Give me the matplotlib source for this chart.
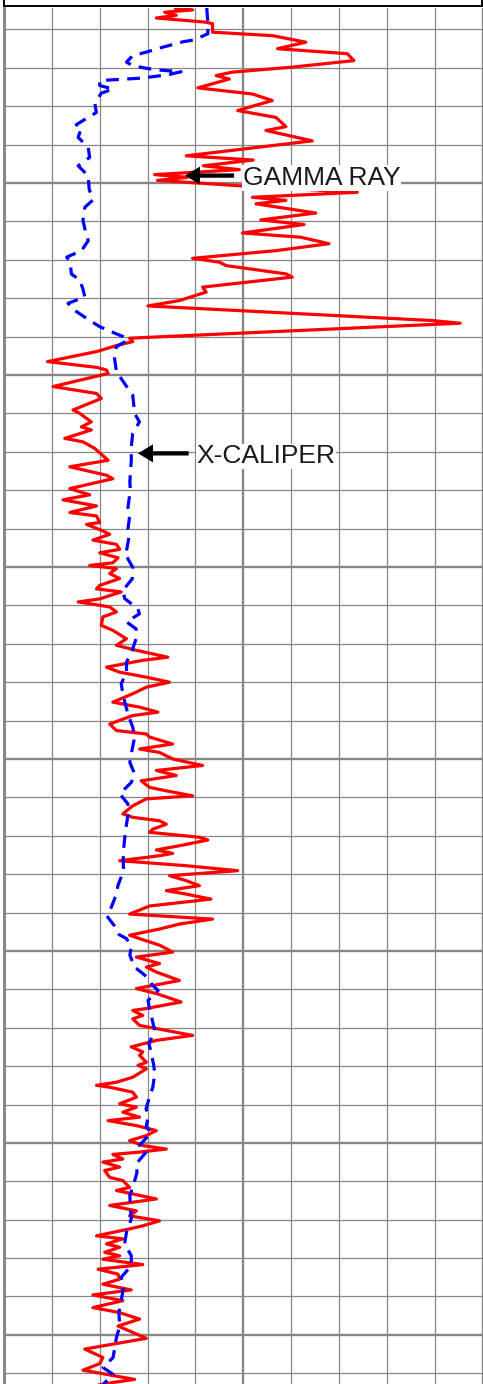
import matplotlib
matplotlib.use("Agg")
import matplotlib.pyplot as plt
from matplotlib.ticker import MultipleLocator
from matplotlib.patches import Rectangle, FancyArrowPatch, ArrowStyle

# ---------------- data ----------------
# Gamma ray log (API) vs depth (ft)
gr_depth = [1954.4, 1954.9, 1955.5, 1956.3, 1957.0, 1958.1, 1958.5, 1960.7, 1961.6, 1963.3,
            1965.0, 1966.3, 1968.1, 1969.8, 1971.1, 1972.0, 1972.9, 1975.2, 1976.8, 1978.5,
            1981.1, 1982.9, 1985.3, 1986.3, 1989.0, 1992.9, 1994.0, 1995.5, 1996.5, 1997.8,
            1998.5, 1999.3, 2000.7, 2002.4, 2003.7, 2004.5, 2005.4, 2007.8, 2009.6, 2010.8,
            2013.0, 2014.1, 2015.8, 2017.6, 2019.6, 2020.6, 2021.5, 2023.65, 2024.5, 2027.1,
            2028.4, 2030.6, 2032.0, 2035.8, 2036.5, 2040.4, 2041.3, 2042.2, 2043.9, 2046.5,
            2048.0, 2048.7, 2049.6, 2053.0, 2054.8, 2056.1, 2059.1, 2060.0, 2062.2, 2063.5,
            2064.3, 2066.5, 2067.4, 2069.1, 2072.2, 2073.9, 2076.1, 2077.0, 2079.6, 2081.2,
            2082.5, 2084.1, 2085.8, 2086.7, 2088.4, 2088.9, 2090.6, 2091.5, 2093.0, 2094.1,
            2095.4, 2096.3, 2097.6, 2098.9, 2099.6, 2100.4, 2101.7, 2103.0, 2104.8, 2105.7,
            2106.5, 2108.3, 2109.1, 2110.4, 2111.7, 2113.0, 2115.2, 2116.5, 2118.7, 2120.4,
            2121.7, 2123.5, 2124.3, 2126.1, 2127.4, 2128.7, 2130.0, 2131.3, 2133.0, 2135.2,
            2136.5, 2137.8, 2138.7, 2140.9, 2142.6, 2143.5, 2144.3, 2146.1, 2147.4, 2148.3,
            2150.0, 2151.7, 2153.0, 2154.3, 2155.7, 2157.4, 2158.3, 2159.6, 2160.4, 2162.2,
            2164.3, 2165.2, 2166.1, 2167.0, 2168.3, 2169.1, 2170.4, 2171.1, 2172.6, 2173.7,
            2174.6, 2175.2, 2176.5, 2177.8, 2179.1, 2180.4, 2181.7, 2183.0, 2184.3, 2185.2,
            2186.5, 2188.3, 2190.4, 2191.7, 2193.0, 2194.3, 2195.9, 2196.8, 2198.5, 2200.3,
            2201.6, 2203.3, 2204.2, 2205.5, 2207.7, 2209.8, 2211.1, 2213.3, 2215.0, 2215.5,
            2216.8, 2217.7, 2219.4, 2220.7, 2222.0, 2223.3, 2225.0, 2226.3, 2227.2, 2229.0,
            2229.8, 2230.7, 2232.9, 2234.2, 2235.0, 2235.5, 2236.8, 2238.1, 2239.8, 2240.7,
            2242.0, 2243.3, 2244.2, 2245.5, 2246.8, 2248.1, 2249.4, 2250.7, 2251.6, 2252.4,
            2253.0, 2254.2, 2255.0, 2256.3, 2257.2, 2259.0, 2259.8, 2261.6, 2262.4, 2264.6,
            2266.3, 2267.7, 2269.0, 2270.3, 2271.6, 2272.4, 2274.2, 2275.0, 2276.3, 2277.2,
            2278.5, 2279.4, 2280.3, 2281.7, 2282.9, 2284.2, 2285.5, 2286.8, 2288.3, 2289.6,
            2291.1, 2292.9, 2294.2, 2295.9, 2297.7, 2300.9, 2303.7, 2305.9, 2307.5, 2309.2,
            2311.6, 2312.4, 2313.0]
gr_api = [43.0, 47.3, 40.3, 43.2, 38.2, 50.7, 52.3, 52.3, 67.3, 75.7,
          68.6, 86.1, 87.75, 72.3, 57.3, 53.2, 56.5, 48.6, 62.3, 67.3,
          58.6, 68.2, 70.7, 65.7, 77.3, 45.7, 62.5, 50.0, 59.0, 37.75,
          46.0, 38.5, 59.0, 88.6, 62.3, 70.7, 63.2, 78.2, 64.4, 75.25,
          59.8, 74.4, 81.5, 68.2, 47.3, 54.0, 55.7, 70.7, 72.3, 49.8,
          50.7, 44.0, 36.1, 107.3, 114.4, 31.5, 32.3, 28.6, 23.2, 10.9,
          23.2, 25.7, 26.1, 12.3, 23.2, 24.4, 17.3, 19.0, 21.9, 19.4,
          21.9, 15.25, 19.8, 22.75, 26.1, 16.5, 25.7, 27.3, 16.5, 21.5,
          14.8, 23.2, 16.5, 23.2, 24.0, 20.7, 24.8, 26.5, 22.3, 28.2,
          29.0, 24.0, 28.6, 27.3, 21.5, 28.2, 26.5, 29.0, 24.0, 23.2,
          29.4, 24.0, 18.6, 26.5, 28.2, 24.8, 24.4, 27.3, 30.7, 28.2,
          33.2, 41.1, 34.8, 25.7, 29.0, 35.7, 41.5, 35.7, 32.3, 27.3,
          34.0, 38.6, 32.3, 26.5, 28.2, 35.7, 36.5, 42.3, 34.0, 39.0,
          42.3, 49.8, 38.2, 43.2, 34.4, 36.5, 40.7, 47.3, 35.7, 32.3,
          29.8, 32.3, 39.0, 40.7, 37.3, 36.5, 49.0, 51.1, 44.0, 38.2,
          42.3, 39.0, 29.0, 45.7, 58.6, 41.5, 45.7, 49.0, 40.7, 45.7,
          51.9, 36.5, 31.5, 52.3, 44.0, 39.0, 31.5, 34.0, 39.0, 42.3,
          33.2, 39.0, 35.7, 38.2, 44.0, 33.2, 38.2, 44.4, 35.7, 32.3,
          34.8, 32.3, 34.0, 40.7, 47.3, 38.2, 31.9, 34.8, 34.0, 35.7,
          33.6, 35.7, 32.3, 28.2, 23.2, 26.5, 32.3, 33.2, 29.0, 33.2,
          29.8, 34.0, 26.1, 33.2, 38.2, 35.7, 31.5, 34.8, 40.7, 34.0,
          27.3, 29.8, 24.8, 29.0, 25.25, 26.5, 29.8, 31.5, 28.2, 38.2,
          26.5, 33.2, 31.5, 39.0, 34.8, 31.5, 23.2, 29.8, 25.7, 29.0,
          25.25, 29.0, 24.8, 34.8, 23.6, 28.6, 29.0, 24.8, 31.9, 22.3,
          29.8, 22.3, 29.0, 34.0, 28.6, 35.7, 20.25, 24.8, 24.0, 19.8,
          32.75, 27.3, 24.0]

# Caliper log (inches) vs depth (ft)
cal_depth = [1954.4, 1955.0, 1958.1, 1961.1, 1962.7, 1963.2, 1964.6, 1965.9, 1966.8, 1968.5,
             1969.4, 1970.1, 1970.5, 1971.0, 1971.7, 1972.3, 1972.7, 1973.3, 1974.6, 1975.5,
             1976.6, 1979.4, 1981.6, 1984.8, 1985.5, 1988.1, 1990.7, 1993.3, 1995.5, 1998.1,
             2001.6, 2004.4, 2006.3, 2009.7, 2011.9, 2015.0, 2017.6, 2019.3, 2020.6, 2023.7,
             2025.2, 2027.6, 2029.7, 2031.3, 2032.6, 2035.2, 2037.4, 2038.7, 2040.0, 2040.9,
             2042.6, 2045.7, 2049.1, 2053.5, 2055.2, 2060.0, 2062.2, 2065.2, 2068.7, 2072.2,
             2077.8, 2080.0, 2084.5, 2086.3, 2090.2, 2092.3, 2095.8, 2096.3, 2100.1, 2103.1,
             2106.0, 2108.2, 2110.9, 2112.2, 2114.3, 2116.1, 2118.7, 2121.7, 2124.8, 2127.4,
             2130.4, 2133.5, 2138.3, 2141.7, 2144.3, 2148.7, 2150.9, 2153.9, 2156.1, 2159.1,
             2161.7, 2164.8, 2167.0, 2170.9, 2173.5, 2176.5, 2179.1, 2183.0, 2185.2, 2188.7,
             2190.9, 2193.5, 2195.7, 2196.8, 2199.0, 2201.1, 2204.2, 2206.3, 2209.0, 2210.3,
             2212.9, 2215.0, 2218.1, 2220.7, 2224.2, 2226.8, 2229.8, 2232.0, 2235.5, 2238.1,
             2241.1, 2243.3, 2245.9, 2247.2, 2250.7, 2252.4, 2255.5, 2257.7, 2261.6, 2263.7,
             2266.8, 2269.8, 2273.3, 2276.3, 2279.4, 2282.0, 2285.0, 2288.1, 2291.1, 2294.2,
             2297.7, 2300.7, 2305.9, 2308.5, 2310.3, 2312.9]
cal_in = [10.24, 10.24, 10.26, 10.26, 9.98, 9.74, 9.32, 8.97, 8.69, 8.56,
          8.69, 8.97, 9.18, 9.70, 9.46, 9.11, 8.83, 8.00, 8.00, 8.28,
          8.03, 7.90, 7.93, 7.51, 7.62, 7.55, 7.76, 7.79, 7.55, 7.76,
          7.78, 7.86, 7.69, 7.65, 7.69, 7.76, 7.62, 7.31, 7.38, 7.41,
          7.58, 7.65, 7.69, 7.34, 7.41, 7.72, 8.00, 8.24, 8.49, 8.59,
          8.35, 8.31, 8.35, 8.59, 8.69, 8.73, 8.83, 8.69, 8.66, 8.66,
          8.63, 8.64, 8.59, 8.63, 8.59, 8.61, 8.56, 8.52, 8.69, 8.68,
          8.49, 8.52, 8.80, 8.83, 8.56, 8.76, 8.76, 8.68, 8.56, 8.56,
          8.45, 8.49, 8.59, 8.69, 8.73, 8.66, 8.63, 8.73, 8.66, 8.42,
          8.59, 8.59, 8.56, 8.52, 8.50, 8.49, 8.50, 8.38, 8.35, 8.24,
          8.15, 8.31, 8.40, 8.56, 8.66, 8.63, 8.73, 8.94, 9.11, 9.22,
          9.01, 9.04, 9.10, 9.15, 9.03, 9.08, 9.13, 9.15, 9.11, 9.04,
          8.97, 9.01, 8.97, 9.08, 8.83, 8.97, 8.76, 8.78, 8.69, 8.63,
          8.64, 8.66, 8.56, 8.52, 8.66, 8.66, 8.45, 8.49, 8.45, 8.40,
          8.42, 8.35, 8.28, 8.07, 8.28, 8.07]

gr_range = (0, 120)
cal_range = (6, 16)
depth_range = (2312.8, 1954.4)
labels = ["GAMMA RAY", "X-CALIPER"]

# ---------------- figure ----------------
W, H = 483, 1384
fig = plt.figure(figsize=(W / 100, H / 100), dpi=100)
fig.patch.set_facecolor("white")

ax = fig.add_axes([4 / W, 0, 478.5 / W, 1376 / H])
ax.set_xlim(*gr_range)
ax.set_ylim(*depth_range)

gridc = "#878787"
ax.xaxis.set_major_locator(MultipleLocator(60))
ax.xaxis.set_minor_locator(MultipleLocator(12))
ax.yaxis.set_major_locator(MultipleLocator(50))
ax.yaxis.set_minor_locator(MultipleLocator(10))
ax.grid(which="major", color=gridc, lw=1.7)
ax.grid(which="minor", color=gridc, lw=0.9)
ax.set_axisbelow(True)
ax.tick_params(which="both", length=0, labelleft=False, labelbottom=False,
               labeltop=False, labelright=False)
for s in ["top", "bottom"]:
    ax.spines[s].set_visible(False)
ax.spines["left"].set_color("#808080")
ax.spines["left"].set_linewidth(2.0)
ax.spines["right"].set_color(gridc)
ax.spines["right"].set_linewidth(0.9)

ax.plot(gr_api, gr_depth, color="#FF0000", lw=2.3, solid_joinstyle="round", zorder=3)

ax2 = ax.twiny()
ax2.set_xlim(*cal_range)
ax2.set_ylim(*depth_range)
ax2.patch.set_visible(False)
ax2.tick_params(which="both", length=0, labeltop=False, labelbottom=False)
for s in ax2.spines.values():
    s.set_visible(False)
ax2.plot(cal_in, cal_depth, color="#0000FF", lw=2.3, linestyle=(0, (4.0, 2.6)), zorder=3)

# annotations (placed in GR data coordinates)
txt_kw = dict(fontsize=19, family=["Liberation Sans", "DejaVu Sans"], color="#1a1a1a",
              va="baseline", ha="left", transform=ax.transData, zorder=10,
              bbox=dict(facecolor="white", edgecolor="none", pad=0.5))
ax2.text(59.9, 2000.5, labels[0], **txt_kw)
ax2.text(48.3, 2073.0, labels[1], **txt_kw)

astyle = ArrowStyle.Simple(head_length=10.8, head_width=13, tail_width=3.1)
for tail, tip in [((57.7, 1998.05), (45.4, 1998.05)), ((46.3, 2070.4), (33.6, 2070.4))]:
    arr = FancyArrowPatch(tail, tip, arrowstyle=astyle, mutation_scale=1,
                          transform=ax.transData, facecolor="black", edgecolor="none",
                          lw=0, shrinkA=0, shrinkB=0, zorder=11)
    ax2.add_artist(arr)

# header box border at top
fig.add_artist(Rectangle((3.5 / W, (H - 6) / H), 478 / W, 20 / H, transform=fig.transFigure,
                         facecolor="white", edgecolor="black", lw=1.4, clip_on=False))

fig.savefig("out.png", dpi=100, facecolor="white")
